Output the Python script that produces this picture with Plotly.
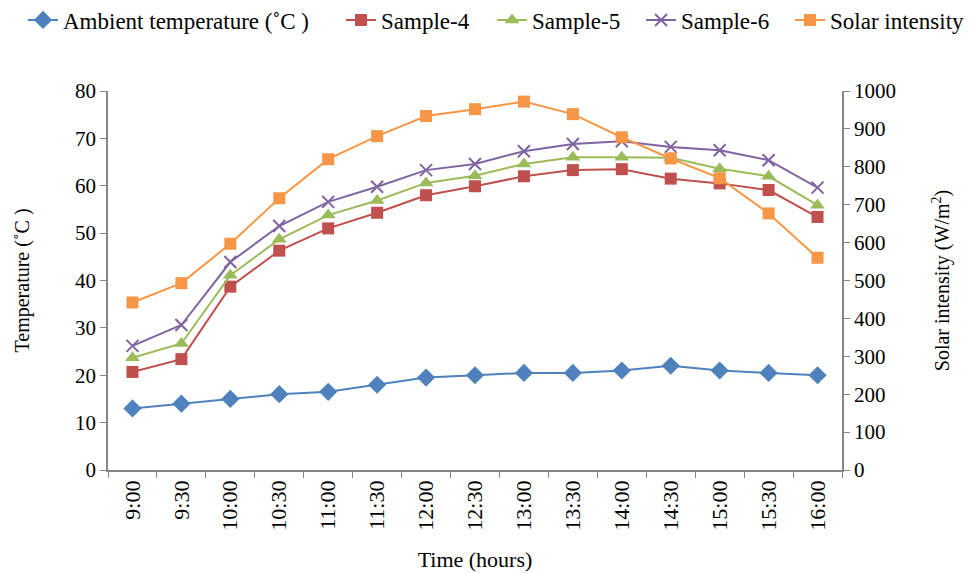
import plotly.graph_objects as go

times = ["9:00", "9:30", "10:00", "10:30", "11:00", "11:30", "12:00", "12:30",
         "13:00", "13:30", "14:00", "14:30", "15:00", "15:30", "16:00"]
ambient = [13.0, 14.0, 15.0, 16.0, 16.5, 18.0, 19.5, 20.0, 20.5, 20.5, 21.0, 22.0, 21.0, 20.5, 20.0]
sample4 = [20.7, 23.4, 38.7, 46.3, 51.0, 54.3, 58.0, 59.9, 62.0, 63.3, 63.5, 61.5, 60.5, 59.1, 53.4]
sample5 = [23.7, 26.7, 41.1, 48.7, 53.8, 56.9, 60.6, 62.1, 64.6, 66.0, 66.0, 65.9, 63.6, 62.0, 55.9]
sample6 = [26.2, 30.6, 43.9, 51.5, 56.6, 59.8, 63.3, 64.6, 67.3, 68.8, 69.4, 68.2, 67.5, 65.4, 59.6]
solar = [442, 493, 597, 717, 820, 881, 934, 952, 972, 939, 878, 822, 770, 677, 560]

FONT = "Liberation Serif"
AX = "#868686"

fig = go.Figure()
fig.add_trace(go.Scatter(x=times, y=ambient, name="Ambient temperature (˚C )", mode="lines+markers",
                         legend="legend",
                         line=dict(color="#4F81BD", width=2),
                         marker=dict(symbol="diamond", size=14, color="#4F81BD")))
fig.add_trace(go.Scatter(x=times, y=sample4, name="Sample-4", mode="lines+markers",
                         legend="legend", legendwidth=100,
                         line=dict(color="#C0504D", width=2),
                         marker=dict(symbol="square", size=12, color="#C0504D")))
fig.add_trace(go.Scatter(x=times, y=sample5, name="Sample-5", mode="lines+markers",
                         legend="legend2",
                         line=dict(color="#9BBB59", width=2),
                         marker=dict(symbol="triangle-up", size=13, color="#9BBB59")))
fig.add_trace(go.Scatter(x=times, y=sample6, name="Sample-6", mode="lines+markers",
                         legend="legend2",
                         line=dict(color="#8064A2", width=2),
                         marker=dict(symbol="x-thin", size=12, color="#8064A2",
                                     line=dict(color="#8064A2", width=2))))
fig.add_trace(go.Scatter(x=times, y=solar, name="Solar intensity", mode="lines+markers",
                         yaxis="y2", legend="legend2", legendwidth=140,
                         line=dict(color="#F79646", width=2),
                         marker=dict(symbol="square", size=12, color="#F79646")))

leg_common = dict(orientation="h", yref="paper", y=1 + (91 - 20) / 379, yanchor="middle",
                  xanchor="left", font=dict(size=23), itemwidth=30,
                  entrywidthmode="pixels", bgcolor="rgba(0,0,0,0)")

fig.update_layout(
    width=970, height=573,
    margin=dict(l=108, r=128, t=91, b=103, autoexpand=False),
    paper_bgcolor="white", plot_bgcolor="white",
    font=dict(family=FONT, size=20, color="black"),
    showlegend=True,
    legend=dict(x=-0.1158, entrywidth=273, **leg_common),
    legend2=dict(x=0.5232, entrywidth=104, **leg_common),
    xaxis=dict(type="category", range=[-0.5, 14.5], tickson="boundaries", automargin=False,
               ticks="outside", ticklen=6, tickcolor=AX, showline=True, linecolor=AX,
               linewidth=1.5, showgrid=False, tickangle=-90,
               tickfont=dict(size=22),
               title=dict(text="Time (hours)", font=dict(size=22), standoff=22)),
    yaxis=dict(range=[0, 80], dtick=10, ticks="outside", ticklen=6, tickcolor=AX, automargin=False,
               showline=True, linecolor=AX, linewidth=1.5, showgrid=False, zeroline=False,
               tickfont=dict(size=21),
               title=dict(text="Temperature (˚C )", font=dict(size=20), standoff=40)),
    yaxis2=dict(range=[0, 1000], dtick=100, overlaying="y", side="right", automargin=False,
                ticks="outside", ticklen=6, tickcolor=AX,
                showline=True, linecolor=AX, linewidth=1.5, showgrid=False, zeroline=False,
                tickfont=dict(size=21),
                title=dict(text="Solar intensity (W/m<sup>2</sup>)", font=dict(size=20), standoff=40)),
)

fig.write_html("out.html")
